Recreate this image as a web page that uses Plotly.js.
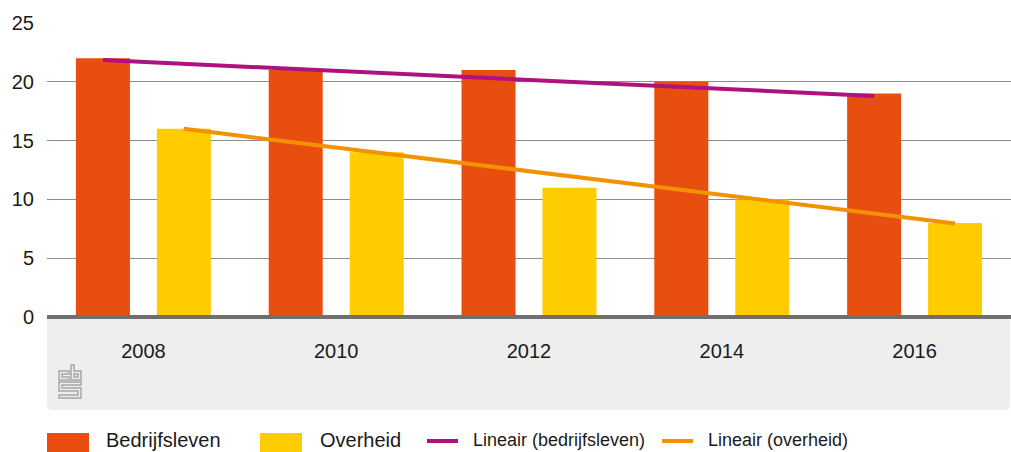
<!DOCTYPE html>
<html>
<head>
<meta charset="utf-8">
<script src="https://cdn.plot.ly/plotly-3.0.1.min.js"></script>
<style>
  html, body { margin: 0; padding: 0; background: #ffffff; }
  #chart { width: 1011px; height: 452px; }
</style>
</head>
<body>
<div id="chart"></div>
<script>
// ---- data ----
const years = [2008, 2010, 2012, 2014, 2016];
const yearLabels = ['2008', '2010', '2012', '2014', '2016'];
const bedrijfsleven = [22, 21, 21, 20, 19];
const overheid = [16, 14, 11, 10, 8];
// trend lines (start and end values)
const trendYears = [2008, 2016];
const trendBedrijfsleven = [21.85, 18.8];
const trendOverheid = [16.0, 7.95];
const yTicks = [0, 5, 10, 15, 20, 25];
const seriesNames = ['Bedrijfsleven', 'Overheid', 'Lineair (bedrijfsleven)', 'Lineair (overheid)'];

// ---- style ----
const W = 1011, H = 452;
const M = {l: 47, r: 0, t: 23, b: 135};
const PW = W - M.l - M.r, PH = H - M.t - M.b;
const BARGAP = 0.16, BARGROUPGAP = 0.333;
const COL = {bed: '#e84e0f', ov: '#ffcc00', bedLine: '#af1181', ovLine: '#f39200'};
const FONT = 'Liberation Sans, Arial, sans-serif';

// pixel -> paper helpers (for decorations only)
const PX = x => (x - M.l) / PW;
const PY = y => (H - M.b - y) / PH;

// offset of each bar in a two-bar group (in x units, step of 2 years)
const step = years[1] - years[0];
const slot = step * (1 - BARGAP) / 2;
const trendXBed = trendYears.map(v => v - slot / 2);
const trendXOv = trendYears.map(v => v + slot / 2);

const traces = [
  {type: 'bar', name: seriesNames[0], x: years, y: bedrijfsleven, marker: {color: COL.bed}, hoverinfo: 'x+y'},
  {type: 'bar', name: seriesNames[1], x: years, y: overheid, marker: {color: COL.ov}, hoverinfo: 'x+y'},
  {type: 'scatter', mode: 'lines', name: seriesNames[2], x: trendXBed, y: trendBedrijfsleven,
   line: {color: COL.bedLine, width: 4}},
  {type: 'scatter', mode: 'lines', name: seriesNames[3], x: trendXOv, y: trendOverheid,
   line: {color: COL.ovLine, width: 4}}
];

// rounded grey panel under the axis
function roundedBox(x0, y0, x1, y1, r) {
  const rx = r / PW, ry = r / PH;
  const a = PX(x0), b = PX(x1), top = PY(y0), bot = PY(y1);
  return `M${a},${top} L${b},${top} L${b},${bot + ry} Q${b},${bot} ${b - rx},${bot} ` +
         `L${a + rx},${bot} Q${a},${bot} ${a},${bot + ry} Z`;
}
function pxPath(cmds) {
  return cmds.map(c => c[0] === 'Z' ? 'Z' : `${c[0]}${PX(c[1])},${PY(c[2])}`).join(' ');
}

const shapes = [
  {type: 'path', xref: 'paper', yref: 'paper', layer: 'below',
   path: roundedBox(47, 317, 1010, 410, 5), fillcolor: '#eeeeee', line: {width: 0}},
  // axis base line
  {type: 'line', xref: 'paper', yref: 'paper', x0: 0, x1: 1, y0: PY(317), y1: PY(317), layer: 'above',
   line: {color: '#6e6e6e', width: 4}},
  // cbs logo (approximation)
  {type: 'path', xref: 'paper', yref: 'paper', line: {color: '#a5a5a5', width: 1.5},
   path: pxPath([['M', 69, 371], ['L', 59, 371], ['L', 59, 380], ['L', 69, 380], ['L', 69, 377], ['L', 62, 377], ['L', 62, 374], ['L', 69, 374], ['Z']])},
  {type: 'path', xref: 'paper', yref: 'paper', line: {color: '#a5a5a5', width: 1.5},
   path: pxPath([['M', 71, 365], ['L', 74, 365], ['L', 74, 371], ['L', 81, 371], ['L', 81, 380], ['L', 71, 380], ['Z']])},
  {type: 'path', xref: 'paper', yref: 'paper', line: {color: '#a5a5a5', width: 1.5},
   path: pxPath([['M', 74, 374], ['L', 78, 374], ['L', 78, 377], ['L', 74, 377], ['Z']])},
  {type: 'path', xref: 'paper', yref: 'paper', line: {color: '#a5a5a5', width: 1.5},
   path: pxPath([['M', 81, 382], ['L', 59, 382], ['L', 59, 391], ['L', 78, 391], ['L', 78, 395], ['L', 59, 395], ['L', 59, 398], ['L', 81, 398], ['L', 81, 388], ['L', 62, 388], ['L', 62, 385], ['L', 81, 385], ['Z']])}
];

// custom legend (large swatches as in the original)
const legendItems = [
  {name: seriesNames[0], kind: 'rect', color: COL.bed, x: 47, tx: 104, size: 20},
  {name: seriesNames[1], kind: 'rect', color: COL.ov, x: 260, tx: 318, size: 20},
  {name: seriesNames[2], kind: 'line', color: COL.bedLine, x: 427, tx: 471, size: 18},
  {name: seriesNames[3], kind: 'line', color: COL.ovLine, x: 662, tx: 706, size: 18}
];
const annotations = [];
legendItems.forEach(it => {
  if (it.kind === 'rect') {
    shapes.push({type: 'rect', xref: 'paper', yref: 'paper', x0: PX(it.x), x1: PX(it.x + 42),
      y0: PY(433), y1: PY(455), fillcolor: it.color, line: {width: 0}});
  } else {
    shapes.push({type: 'line', xref: 'paper', yref: 'paper', x0: PX(it.x), x1: PX(it.x + 31),
      y0: PY(441), y1: PY(441), line: {color: it.color, width: 4}});
  }
  annotations.push({xref: 'paper', yref: 'paper', x: PX(it.tx), y: PY(440), xanchor: 'left', yanchor: 'middle',
    text: it.name, showarrow: false, font: {family: FONT, size: it.size, color: '#1a1a1a'}});
});

const layout = {
  width: W, height: H,
  margin: M,
  paper_bgcolor: '#ffffff', plot_bgcolor: 'rgba(0,0,0,0)',
  font: {family: FONT, size: 20, color: '#1a1a1a'},
  barmode: 'group', bargap: BARGAP, bargroupgap: BARGROUPGAP,
  showlegend: false,
  xaxis: {type: 'linear', range: [years[0] - step / 2, years[years.length - 1] + step / 2],
    tickmode: 'array', tickvals: years, ticktext: yearLabels, showgrid: false, zeroline: false,
    showline: false, ticks: '', ticklabelstandoff: 20, fixedrange: true},
  yaxis: {range: [0, 25], tickmode: 'array', tickvals: yTicks, ticktext: yTicks.map(String),
    showgrid: true, gridcolor: '#8c8c8c', gridwidth: 1, zeroline: false, showline: false,
    ticks: '', ticklabelstandoff: 12, fixedrange: true},
  shapes: shapes,
  annotations: annotations
};

Plotly.newPlot('chart', traces, layout, {displayModeBar: false, staticPlot: true});
</script>
</body>
</html>
